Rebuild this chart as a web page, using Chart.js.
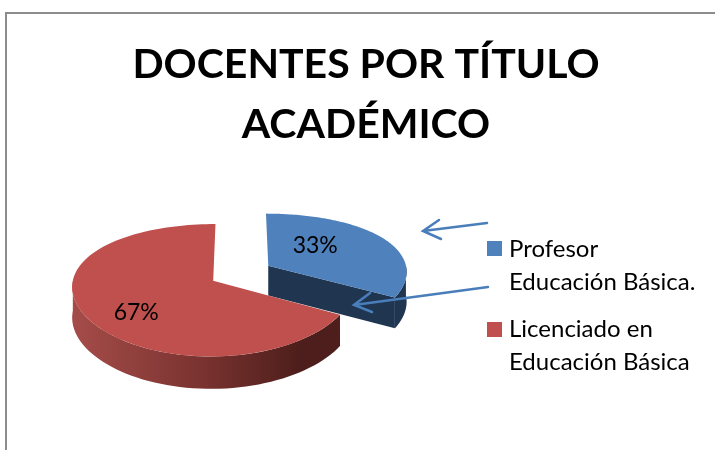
<!DOCTYPE html>
<html>
<head>
<meta charset="utf-8">
<style>
  html, body { margin: 0; padding: 0; background: #fff; overflow: hidden; }
  #frame { position: absolute; left: 5px; top: 12px; width: 710px; height: 438px; border-left: 2px solid #8c8c8c; border-top: 2px solid #8c8c8c; }
  canvas { position: absolute; left: 0; top: 0; }
</style>
</head>
<body>
<div id="frame"></div>
<canvas id="pie-chart" width="715" height="450"></canvas>
<script src="https://cdn.jsdelivr.net/npm/chart.js@4"></script>
<script>
const categories = ["Profesor Educación Básica.", "Licenciado en Educación Básica"];
const legendLines = [["Profesor", "Educación Básica."], ["Licenciado en", "Educación Básica"]];
const percentages = [33, 67];
const titleLines = ["DOCENTES POR TÍTULO", "ACADÉMICO"];
const sliceColors = ["#4f81bd", "#c0504d"];

const FONT = "Lato, Carlito, sans-serif";

// Tilted view of the pie: ground point (u, v) relative to the centre -> screen
const project = (arc, u, v) => ({
  x: arc.x + u * (1 + v * 0.0006),
  y: arc.y + 0.46 * v + 0.0005 * v * v,
});
const wallHeight = (v) => 30 + 0.015 * v;

const slicePoint = (arc, angle, radius) => {
  const mid = (arc.startAngle + arc.endAngle) / 2;
  const offset = arc.options.offset;
  return {
    u: Math.cos(mid) * offset + Math.cos(angle) * radius,
    v: Math.sin(mid) * offset + Math.sin(angle) * radius,
  };
};

const screenPoint = (arc, angle, radius, raised) => {
  const p = slicePoint(arc, angle, radius);
  const s = project(arc, p.u, p.v);
  return { x: s.x, y: s.y + (raised ? 0 : wallHeight(p.v)) };
};

// Rim plus the visible cut edge, drawn below the top surface
const drawWall = (ctx, arc, index) => {
  const from = Math.max(arc.startAngle, 0);
  const to = Math.min(arc.endAngle, Math.PI);
  const steps = 60;
  ctx.beginPath();
  for (let i = 0; i <= steps; i++) {
    const s = screenPoint(arc, from + ((to - from) * i) / steps, arc.outerRadius, true);
    ctx.lineTo(s.x, s.y);
  }
  for (let i = steps; i >= 0; i--) {
    const s = screenPoint(arc, from + ((to - from) * i) / steps, arc.outerRadius, false);
    ctx.lineTo(s.x, s.y);
  }
  ctx.closePath();

  if (index === 0) {
    ctx.fillStyle = "#1f3550";
    ctx.fill();
    const edgeTop = screenPoint(arc, arc.endAngle, arc.outerRadius, true);
    const edgeBottom = screenPoint(arc, arc.endAngle, arc.outerRadius, false);
    const apexTop = screenPoint(arc, arc.endAngle, 0, true);
    const apexBottom = screenPoint(arc, arc.endAngle, 0, false);
    ctx.beginPath();
    ctx.moveTo(apexTop.x, apexTop.y);
    ctx.lineTo(edgeTop.x, edgeTop.y);
    ctx.lineTo(edgeBottom.x, edgeBottom.y);
    ctx.lineTo(apexBottom.x, apexBottom.y);
    ctx.closePath();
    ctx.fill();
  } else {
    const left = screenPoint(arc, Math.PI, arc.outerRadius, true).x;
    const right = screenPoint(arc, arc.startAngle, arc.outerRadius, true).x;
    const gradient = ctx.createLinearGradient(left, 0, right, 0);
    gradient.addColorStop(0, "#a54c49");
    gradient.addColorStop(0.5, "#78322f");
    gradient.addColorStop(0.85, "#4d1e1b");
    gradient.addColorStop(1, "#4d1e1b");
    ctx.fillStyle = gradient;
    ctx.fill();
  }
};

const drawTop = (ctx, arc, color) => {
  const steps = 120;
  const apex = screenPoint(arc, arc.startAngle, 0, true);
  ctx.beginPath();
  ctx.moveTo(apex.x, apex.y);
  for (let i = 0; i <= steps; i++) {
    const angle = arc.startAngle + ((arc.endAngle - arc.startAngle) * i) / steps;
    const s = screenPoint(arc, angle, arc.outerRadius, true);
    ctx.lineTo(s.x, s.y);
  }
  ctx.closePath();
  ctx.fillStyle = color;
  ctx.fill();
};

const drawArrow = (ctx, tail, tip, barbA, barbB) => {
  ctx.strokeStyle = "#4a7ebb";
  ctx.lineWidth = 2.5;
  ctx.lineCap = "round";
  ctx.beginPath();
  ctx.moveTo(tail[0], tail[1]);
  ctx.lineTo(tip[0], tip[1]);
  ctx.moveTo(barbA[0], barbA[1]);
  ctx.lineTo(tip[0], tip[1]);
  ctx.lineTo(barbB[0], barbB[1]);
  ctx.stroke();
};

const pie3d = {
  id: "pie3d",
  afterLayout(chart) {
    // Title sits centred over the whole frame, not over the pie
    chart.titleBlock.left += 125;
    chart.titleBlock.right += 125;
  },
  beforeDatasetsDraw(chart) {
    const ctx = chart.ctx;
    const arcs = chart.getDatasetMeta(0).data;
    ctx.save();
    arcs.forEach((arc, i) => drawWall(ctx, arc, i));
    arcs.forEach((arc, i) => drawTop(ctx, arc, sliceColors[i]));
    ctx.restore();
    return false;
  },
  afterDraw(chart) {
    const ctx = chart.ctx;
    const arcs = chart.getDatasetMeta(0).data;
    ctx.save();

    // Percent labels
    const labelSpots = [
      { angle: -44, radius: 69 },
      { angle: 139, radius: 96 },
    ];
    ctx.font = "23px " + FONT;
    ctx.fillStyle = "#000";
    ctx.textAlign = "center";
    ctx.textBaseline = "middle";
    arcs.forEach((arc, i) => {
      const s = screenPoint(arc, (labelSpots[i].angle * Math.PI) / 180, labelSpots[i].radius, true);
      ctx.fillText(percentages[i] + "%", s.x, s.y);
    });

    // Legend
    const legendTops = [249, 329];
    ctx.font = "24px " + FONT;
    ctx.textAlign = "left";
    legendLines.forEach((lines, i) => {
      ctx.fillStyle = sliceColors[i];
      ctx.fillRect(487, legendTops[i] - 8 + i, 15, 15);
      ctx.fillStyle = "#000";
      lines.forEach((line, j) => ctx.fillText(line, 509, legendTops[i] + j * 33));
    });

    // Hand-drawn arrows
    drawArrow(ctx, [487, 223], [423, 231], [439, 220], [441, 239]);
    drawArrow(ctx, [488, 287], [354, 305], [370, 293], [372, 312]);
    ctx.restore();
  },
};

new Chart(document.getElementById("pie-chart"), {
  type: "pie",
  data: {
    labels: categories,
    datasets: [
      {
        data: percentages,
        backgroundColor: sliceColors,
        borderWidth: 0,
        offset: 32,
        radius: 139,
      },
    ],
  },
  plugins: [pie3d],
  options: {
    responsive: false,
    animation: false,
    layout: { padding: { left: 0, right: 233, top: 0, bottom: 62 } },
    plugins: {
      legend: { display: false },
      tooltip: { enabled: false },
      title: {
        display: true,
        text: titleLines,
        color: "#000",
        font: { family: FONT, size: 41, weight: "bold", lineHeight: "60px" },
        padding: { top: 35, bottom: 3 },
      },
    },
  },
});
</script>
</body>
</html>
